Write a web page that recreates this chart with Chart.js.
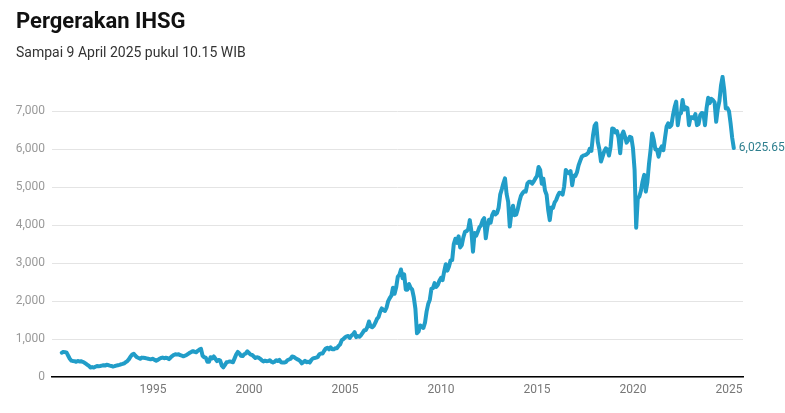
<!DOCTYPE html>
<html lang="id">
<head>
<meta charset="UTF-8">
<title>Pergerakan IHSG</title>
<script src="https://cdn.jsdelivr.net/npm/chart.js@4"></script>
<style>
  html, body { margin: 0; padding: 0; background: #fff; }
  body { width: 785px; height: 413px; position: relative; overflow: hidden; font-family: Roboto, "Noto Sans", sans-serif; }
  canvas { position: absolute; left: 0; top: 0; }
  h1 { position: absolute; left: 16px; top: 10px; margin: 0; font-size: 22px; line-height: 22px; font-weight: 700; color: #111; }
  .sub { position: absolute; left: 16px; top: 45px; margin: 0; font-size: 14px; line-height: 14px; color: #333; }
</style>
</head>
<body>
<canvas id="chartIhsg" width="785" height="413"></canvas>
<h1>Pergerakan IHSG</h1>
<p class="sub">Sampai 9 April 2025 pukul 10.15 WIB</p>

<script>
// Data: penutupan bulanan IHSG (perkiraan dari gambar), mulai April 1990
const startYear = 1990;
const startMonth = 4;
const monthlyClose = [
  640, 660, 655, 640, 560, 480, 430, 420, 417,                         // 1990
  400, 420, 410, 415, 400, 380, 350, 320, 290, 250, 260, 247,          // 1991
  270, 290, 285, 290, 300, 310, 300, 320, 315, 300, 290, 275,          // 1992
  285, 300, 310, 320, 335, 345, 360, 390, 420, 470, 540, 590,          // 1993
  610, 560, 520, 500, 480, 510, 505, 500, 490, 480, 470, 470,          // 1994
  480, 450, 430, 450, 480, 500, 510, 495, 505, 500, 470, 513,          // 1995
  550, 580, 600, 590, 600, 575, 560, 545, 560, 580, 610, 637,          // 1996
  660, 680, 660, 650, 690, 720, 740, 560, 520, 510, 400, 401,          // 1997
  520, 490, 540, 480, 420, 450, 430, 300, 256, 320, 390, 398,          // 1998
  410, 400, 390, 490, 590, 660, 620, 560, 550, 600, 620, 676,          // 1999
  630, 590, 580, 540, 500, 520, 510, 480, 440, 410, 430, 416,          // 2000
  420, 440, 400, 380, 400, 440, 420, 450, 390, 380, 380, 392,          // 2001
  440, 460, 480, 540, 530, 500, 470, 450, 420, 360, 390, 425,          // 2002
  390, 400, 380, 450, 490, 500, 510, 530, 600, 620, 620, 691,          // 2003
  750, 770, 730, 780, 730, 730, 760, 760, 820, 860, 970, 1000,         // 2004
  1040, 1070, 1080, 1030, 1090, 1120, 1180, 1050, 1080, 1060, 1100, 1162, // 2005
  1230, 1230, 1320, 1460, 1330, 1310, 1350, 1430, 1530, 1580, 1720, 1805, // 2006
  1760, 1740, 1830, 1999, 2080, 2140, 2350, 2190, 2360, 2640, 2690, 2830, // 2007
  2600, 2700, 2300, 2300, 2450, 2350, 2300, 2100, 1800, 1150, 1200, 1355, // 2008
  1330, 1290, 1430, 1720, 1920, 2030, 2320, 2340, 2470, 2370, 2420, 2534, // 2009
  2610, 2550, 2780, 2970, 2800, 2910, 3070, 3080, 3500, 3640, 3530, 3703, // 2010
  3410, 3470, 3680, 3820, 3840, 3890, 4130, 3840, 3300, 3790, 3720, 3821, // 2011
  3940, 3990, 4120, 4180, 3650, 3950, 4140, 4060, 4260, 4350, 4280, 4316, // 2012
  4450, 4800, 4940, 5100, 5230, 4820, 4610, 3960, 4320, 4510, 4260, 4274, // 2013
  4420, 4620, 4770, 4840, 4890, 4880, 5090, 5140, 5140, 5090, 5150, 5227, // 2014
  5290, 5530, 5450, 5090, 5220, 4910, 4800, 4400, 4130, 4460, 4450, 4593, // 2015
  4660, 4770, 4850, 4840, 4800, 5020, 5450, 5390, 5360, 5420, 5050, 5297, // 2016
  5290, 5390, 5570, 5690, 5800, 5830, 5840, 5860, 5900, 6010, 5950, 6355, // 2017
  6610, 6680, 6190, 5990, 5670, 5800, 5940, 6020, 5980, 5830, 6060, 6540, // 2018
  6530, 6440, 6470, 6300, 5890, 6360, 6460, 6330, 6170, 6230, 6320, 6300, // 2019
  6020, 5450, 3930, 4700, 4750, 4910, 5150, 5320, 4880, 5130, 5610, 5979, // 2020
  6410, 6240, 5990, 5990, 5800, 5990, 6070, 5970, 6290, 6590, 6680, 6581, // 2021
  6630, 6890, 7100, 7250, 6630, 6910, 6950, 7290, 7040, 7100, 7080, 6630, // 2022
  6840, 6840, 6810, 6920, 6630, 6660, 6890, 6950, 6940, 6630, 7080, 7350, // 2023
  7210, 7320, 7290, 7230, 6720, 7060, 7260, 7670, 7900, 7570, 7070, 7080, // 2024
  7000, 6680, 6300, 6025.65                                              // 2025
];
const xTicks = [1995, 2000, 2005, 2010, 2015, 2020, 2025];
const yTicks = [0, 1000, 2000, 3000, 4000, 5000, 6000, 7000];

const points = monthlyClose.map((v, i) => ({
  x: startYear + (startMonth - 1) / 12 + i / 12,
  y: v
}));
const lastValue = monthlyClose[monthlyClose.length - 1];
const lastLabel = lastValue.toLocaleString('en-US', { minimumFractionDigits: 2 });

// label nilai terakhir di ujung garis
const endLabel = {
  id: 'endLabel',
  afterDatasetsDraw(chart) {
    const meta = chart.getDatasetMeta(0);
    const pt = meta.data[meta.data.length - 1];
    const c = chart.ctx;
    c.save();
    c.font = '12px Roboto';
    c.fillStyle = '#2e7f8e';
    c.textBaseline = 'middle';
    c.fillText(lastLabel, pt.x + 5, pt.y);
    c.restore();
  }
};

new Chart(document.getElementById('chartIhsg'), {
  type: 'line',
  data: {
    datasets: [{
      data: points,
      borderColor: '#219dc8',
      borderWidth: 4,
      pointRadius: 0,
      tension: 0,
      borderJoinStyle: 'round',
      borderCapStyle: 'round'
    }]
  },
  options: {
    responsive: false,
    animation: false,
    layout: { padding: { top: 75, right: 42, left: 0, bottom: 0 } },
    plugins: { legend: { display: false }, tooltip: { enabled: false } },
    scales: {
      x: {
        type: 'linear',
        min: 1989.74,
        max: 2025.73,
        afterBuildTicks: s => { s.ticks = xTicks.map(v => ({ value: v })); },
        afterFit: s => { s.height = 36; },
        grid: { display: false, drawTicks: false },
        border: { display: true, color: '#000', width: 1.5 },
        ticks: {
          padding: 6, color: '#777', maxRotation: 0, autoSkip: false,
          font: { family: 'Roboto', size: 12 },
          callback: v => String(v)
        }
      },
      y: {
        min: 0,
        max: 7950,
        afterBuildTicks: s => { s.ticks = yTicks.map(v => ({ value: v })); },
        afterFit: s => { s.width = 52; },
        grid: { color: '#e4e4e4', drawTicks: false },
        border: { display: false },
        ticks: {
          padding: 7, color: '#999',
          font: { family: 'Roboto', size: 12 },
          callback: v => v.toLocaleString('en-US')
        }
      }
    }
  },
  plugins: [endLabel]
});
</script>
</body>
</html>
